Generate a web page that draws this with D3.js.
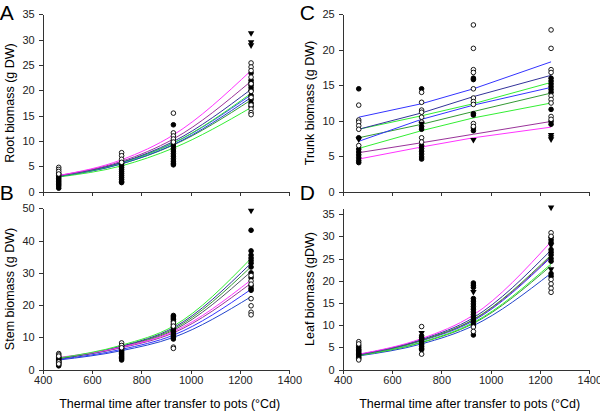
<!DOCTYPE html>
<html>
<head>
<meta charset="utf-8">
<script src="https://cdn.jsdelivr.net/npm/d3@7"></script>
<style>
  body { margin: 0; background: #fff; }
  svg { display: block; font-family: "Liberation Sans", Arial, sans-serif; }
  .axis path, .axis line { stroke: #333; shape-rendering: crispEdges; }
  .axis text { font-size: 11px; fill: #222; }
  .curve { fill: none; stroke-width: 1px; }
</style>
</head>
<body>
<svg id="chart"></svg>
<script>
// sampling times (thermal time, °Cd)
var times = [465, 720, 930, 1245];
var xTicks = [400, 600, 800, 1000, 1200, 1400];

// colours of the fitted curves
var colMag = "#ff33ff", colPur = "#993399", colSlate = "#333399", colBlue = "#3333ff",
  colGreen = "#33ee33", colDGreen = "#339933", colBlue2 = "#2244cc", colGrey = "#555566";

// ---- Root (A): observations per sampling time ----
var rootOpen = [
  [4.8, 4.4, 4.0, 3.5],
  [7.7, 7.1, 6.4, 5.8],
  [15.5, 11.6, 11.0, 10.4, 9.8],
  [25.4, 24.6, 23.9, 22.6, 21.3, 19.8, 18.6, 17.1, 16.3, 15.6, 15.2]
];
var rootFilled = [
  [3.6, 3.2, 2.9, 2.6, 2.3, 2.0, 1.7, 1.4, 1.1, 0.7],
  [5.6, 5.2, 4.8, 4.4, 4.0, 3.6, 3.2, 2.8, 2.4, 2.0, 1.8],
  [13.2, 10.0, 9.5, 9.0, 8.5, 8.0, 7.5, 7.0, 6.5, 6.0, 5.6, 5.3],
  [23.4, 22.0, 21.5, 21.0, 20.5, 20.0, 19.0, 18.2, 17.5, 16.8]
];
var rootTri = [[], [], [], [31.3, 29.5, 28.9]];
// fitted values at the sampling times
var rootFits = [
  {color: colGreen, values: [2.9, 5.1, 8.6, 16.6]},
  {color: colDGreen, values: [3.0, 5.5, 9.2, 18.1]},
  {color: colBlue2, values: [3.0, 5.5, 9.3, 18.6]},
  {color: colBlue, values: [3.1, 5.7, 9.6, 19.1]},
  {color: colGreen, values: [3.0, 5.7, 9.6, 19.4]},
  {color: colSlate, values: [3.1, 5.8, 9.9, 20.2]},
  {color: colPur, values: [3.2, 6.0, 10.4, 21.8]},
  {color: colMag, values: [3.2, 6.3, 11.2, 23.9]}
];

// ---- Stem (B) ----
var stemOpen = [
  [5.0, 4.6, 4.2, 2.4, 1.8],
  [8.3, 7.5, 6.8],
  [14.5, 13.5, 7.0, 6.6],
  [29.2, 27.5, 26.5, 22.0, 19.8, 17.8, 17.0]
];
var stemFilled = [
  [4.0, 3.7, 3.4, 3.1, 2.8, 2.5, 2.2, 1.9, 1.5, 1.2],
  [7.2, 6.6, 6.2, 5.8, 5.4, 5.0, 4.6, 4.2, 3.8, 3.4, 3.0],
  [16.8, 16.4, 16.0, 15.6, 15.0, 14.0, 13.2, 12.5, 12.0, 11.5, 11.0, 10.5, 10.0, 9.5],
  [43.2, 36.8, 35.5, 34.6, 33.8, 33.0, 31.8, 30.0, 28.5, 26.0, 25.2, 24.6]
];
var stemTri = [[], [], [], [49.3]];
var stemFits = [
  {color: colBlue2, values: [3.0, 5.9, 10.0, 22.6]},
  {color: colBlue, values: [3.2, 6.3, 10.7, 24.9]},
  {color: colPur, values: [3.6, 6.8, 11.4, 26.8]},
  {color: colGrey, values: [3.4, 7.0, 12.2, 30.4]},
  {color: colDGreen, values: [3.5, 7.2, 12.6, 31.9]},
  {color: colSlate, values: [3.5, 7.3, 13.0, 33.0]},
  {color: colMag, values: [3.8, 7.0, 11.8, 27.8]},
  {color: colGreen, values: [3.6, 7.6, 13.5, 34.5]}
];

// ---- Trunk (C) ----
var trunkOpen = [
  [12.2, 10.1, 9.8, 9.3, 8.8, 6.5],
  [14.0, 12.6, 11.5, 11.2, 10.5, 9.8, 7.6, 7.0],
  [23.5, 20.2, 17.2, 16.8, 14.5, 13.2, 12.7, 12.3, 9.6, 9.2],
  [22.8, 20.2, 17.2, 16.8, 13.5, 13.0, 12.5, 10.6, 10.2]
];
var trunkFilled = [
  [14.5, 7.6, 6.0, 5.6, 5.2, 4.8, 4.4, 4.1],
  [14.5, 9.2, 8.8, 6.5, 6.1, 5.7, 5.3, 4.9, 4.6],
  [16.0, 15.8, 11.0, 10.8, 9.0, 8.6],
  [16.0, 15.6, 15.2, 14.8, 14.4, 14.0, 11.6, 9.9, 9.5]
];
var trunkTri = [[7.4], [9.6], [7.3], [8.0, 7.7, 7.4]];
var trunkFits = [
  {color: colMag, values: [4.6, 6.3, 7.6, 9.1]},
  {color: colPur, values: [5.5, 6.9, 8.1, 9.9]},
  {color: colGreen, values: [6.1, 8.6, 10.4, 12.5]},
  {color: colDGreen, values: [7.6, 9.5, 11.3, 13.9]},
  {color: colBlue, values: [7.1, 10.2, 12.2, 14.7]},
  {color: colGreen, values: [8.8, 10.7, 12.4, 15.4]},
  {color: colSlate, values: [8.8, 11.1, 13.4, 16.4]},
  {color: colBlue, values: [10.5, 12.4, 14.5, 18.3]}
];

// ---- Leaf (D) ----
var leafOpen = [
  [6.3, 5.8, 2.2],
  [9.7, 3.5],
  [9.6, 8.6],
  [30.8, 30.0, 20.3, 19.3, 18.3, 17.4]
];
var leafFilled = [
  [5.4, 5.0, 4.6, 4.3, 4.0, 3.7, 3.4, 3.1, 2.8, 2.5],
  [7.6, 7.2, 6.8, 6.4, 6.0, 5.6, 5.2, 4.8, 4.5],
  [19.5, 19.0, 18.5, 16.0, 15.4, 14.8, 14.2, 13.6, 13.0, 12.4, 11.8, 11.2, 10.6, 10.0, 7.8],
  [29.8, 29.2, 28.6, 27.0, 26.4, 25.8, 25.0, 24.4, 21.6, 21.0]
];
var leafTri = [[], [8.3], [17.5], [36.5, 28.0, 22.6]];
var leafFits = [
  {color: colBlue2, values: [3.1, 5.8, 9.9, 21.7]},
  {color: colDGreen, values: [3.2, 6.1, 10.4, 23.4]},
  {color: colGreen, values: [3.2, 6.2, 10.6, 23.8]},
  {color: colBlue, values: [3.3, 6.5, 11.0, 25.3]},
  {color: colPur, values: [3.4, 6.6, 11.2, 25.5]},
  {color: colDGreen, values: [3.3, 6.6, 11.3, 25.8]},
  {color: colSlate, values: [3.4, 6.8, 11.7, 26.9]},
  {color: colMag, values: [3.5, 7.0, 12.3, 28.8]}
];

var svg = d3.select("#chart")
  .attr("width", 600)
  .attr("height", 411);

// draw one panel
function drawPanel(p) {
  var x = d3.scaleLinear().domain([400, 1400]).range([p.left, p.left + 246.6]);
  var y = d3.scaleLinear().domain([0, p.yMax]).range([p.bottom, p.top]);

  var g = svg.append("g");

  // fitted curves
  var line = d3.line()
    .x(function(d, i) { return x(times[i]); })
    .y(function(d) { return y(d); })
    .curve(p.curved ? d3.curveMonotoneX : d3.curveLinear);

  g.selectAll(".curve")
    .data(p.fits)
    .enter().append("path")
      .attr("class", "curve")
      .attr("d", function(d) { return line(d.values); })
      .style("stroke", function(d) { return d.color; });

  // flatten observations into points
  function pts(arr) {
    var out = [];
    arr.forEach(function(vals, i) {
      vals.forEach(function(v) { out.push({t: times[i], v: v}); });
    });
    return out;
  }

  g.selectAll(".filled")
    .data(pts(p.filled))
    .enter().append("circle")
      .attr("cx", function(d) { return x(d.t); })
      .attr("cy", function(d) { return y(d.v); })
      .attr("r", 2.3)
      .style("fill", "#000")
      .style("stroke", "#000");

  g.selectAll(".open")
    .data(pts(p.open))
    .enter().append("circle")
      .attr("cx", function(d) { return x(d.t); })
      .attr("cy", function(d) { return y(d.v); })
      .attr("r", 2.3)
      .style("fill", "#fff")
      .style("stroke", "#000")
      .style("stroke-width", 0.9);

  g.selectAll(".tri")
    .data(pts(p.tri))
    .enter().append("path")
      .attr("d", d3.symbol().type(d3.symbolTriangle).size(18))
      .attr("transform", function(d) {
        return "translate(" + x(d.t) + "," + y(d.v) + ") rotate(180)";
      })
      .style("fill", "#000");

  // axes
  var xAxis = d3.axisBottom(x).tickValues(xTicks).tickSize(4).tickSizeOuter(0)
    .tickPadding(3).tickFormat(d3.format("d"));
  if (!p.xLabels) xAxis.tickFormat("");
  g.append("g")
    .attr("class", "axis")
    .attr("transform", "translate(0," + p.bottom + ")")
    .call(xAxis);

  g.append("g")
    .attr("class", "axis")
    .attr("transform", "translate(" + p.left + ",0)")
    .call(d3.axisLeft(y).tickValues(p.yTicks).tickSize(4).tickSizeOuter(0).tickPadding(4));

  // y-axis title
  g.append("text")
    .attr("transform", "translate(" + (p.left - 29) + "," + ((p.top + p.bottom) / 2) + ") rotate(-90)")
    .style("text-anchor", "middle")
    .style("font-size", "12.5px")
    .text(p.yTitle);

  // x-axis title
  if (p.xLabels) {
    g.append("text")
      .attr("x", p.left + 127)
      .attr("y", 408)
      .style("text-anchor", "middle")
      .style("font-size", "12.5px")
      .text("Thermal time after transfer to pots (°Cd)");
  }

  // panel letter
  g.append("text")
    .attr("x", p.left - 43)
    .attr("y", p.letterY)
    .style("font-size", "21px")
    .text(p.letter);
}

drawPanel({letter: "A", letterY: 20, left: 42.7, top: 14.3, bottom: 191.7, yMax: 35,
  yTicks: [0, 5, 10, 15, 20, 25, 30, 35], yTitle: "Root biomass (g DW)", xLabels: false, curved: true,
  open: rootOpen, filled: rootFilled, tri: rootTri, fits: rootFits});

drawPanel({letter: "C", letterY: 20, left: 342.7, top: 14.3, bottom: 191.7, yMax: 25,
  yTicks: [0, 5, 10, 15, 20, 25], yTitle: "Trunk biomass (g DW)", xLabels: false, curved: false,
  open: trunkOpen, filled: trunkFilled, tri: trunkTri, fits: trunkFits});

drawPanel({letter: "B", letterY: 200, left: 42.7, top: 208.3, bottom: 369.7, yMax: 50,
  yTicks: [0, 10, 20, 30, 40, 50], yTitle: "Stem biomass (g DW)", xLabels: true, curved: true,
  open: stemOpen, filled: stemFilled, tri: stemTri, fits: stemFits});

drawPanel({letter: "D", letterY: 200, left: 342.7, top: 208.3, bottom: 369.7, yMax: 36.3,
  yTicks: [0, 5, 10, 15, 20, 25, 30, 35], yTitle: "Leaf biomass (gDW)", xLabels: true, curved: true,
  open: leafOpen, filled: leafFilled, tri: leafTri, fits: leafFits});
</script>
</body>
</html>
